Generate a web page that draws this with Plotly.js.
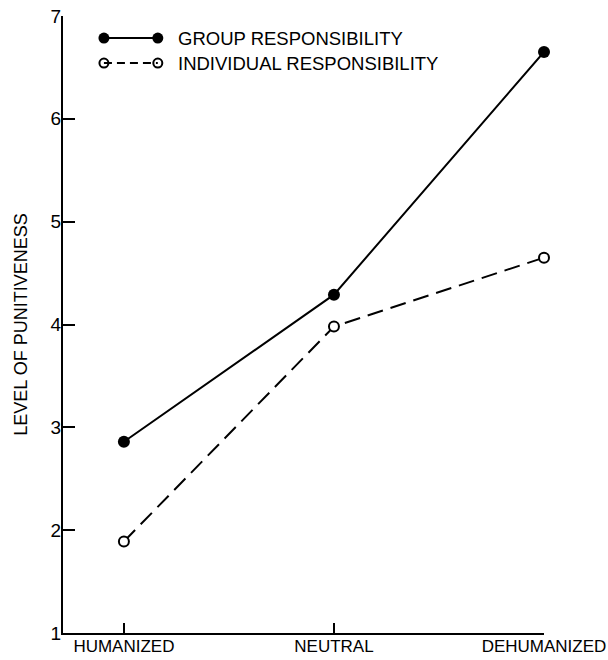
<!DOCTYPE html>
<html>
<head>
<meta charset="utf-8">
<script src="https://cdn.plot.ly/plotly-3.0.1.min.js"></script>
<style>html,body{margin:0;padding:0;background:#fff;}#chart{width:608px;height:660px;}</style>
</head>
<body>
<div id="chart"></div>
<script>
var categories = ['HUMANIZED', 'NEUTRAL', 'DEHUMANIZED'];
var groupName = 'GROUP RESPONSIBILITY';
var individualName = 'INDIVIDUAL RESPONSIBILITY';
var groupValues = [2.86, 4.29, 6.65];
var individualValues = [1.89, 3.98, 4.65];
var yTickValues = [1, 2, 3, 4, 5, 6, 7];
var yTitle = 'LEVEL OF PUNITIVENESS';

var FONT = 'Liberation Sans, Arial, Helvetica, sans-serif';
var xIdx = categories.map(function (c, i) { return i; });

var traces = [
  {
    x: xIdx, y: groupValues, name: groupName, type: 'scatter', mode: 'lines+markers',
    line: {color: '#000', width: 2},
    marker: {symbol: 'circle', size: 12, color: '#000'},
    cliponaxis: false, showlegend: false
  },
  {
    x: xIdx, y: individualValues, name: individualName, type: 'scatter', mode: 'lines+markers',
    line: {color: '#000', width: 2, dash: '16px,8px'},
    marker: {symbol: 'circle', size: 10, color: '#fff', line: {color: '#000', width: 2}},
    cliponaxis: false, showlegend: false
  }
];

// custom legend (paper coords)
var L = {x0: 0.0851, x1: 0.1971, tx: 0.2344, y1: 0.9643, y2: 0.9238};
var shapes = [
  {type: 'line', xref: 'paper', yref: 'paper', x0: L.x0, x1: L.x1, y0: L.y1, y1: L.y1, line: {color: '#000', width: 2}},
  {type: 'line', xref: 'paper', yref: 'paper', x0: L.x0, x1: L.x1, y0: L.y2, y1: L.y2, line: {color: '#000', width: 2, dash: '8px,5px'}}
];
var legendTrace1 = {
  x: [L.x0, L.x1], y: [L.y1, L.y1], xaxis: 'x2', yaxis: 'y2', mode: 'markers', type: 'scatter',
  marker: {symbol: 'circle', size: 11, color: '#000'}, showlegend: false, hoverinfo: 'skip', cliponaxis: false
};
var legendTrace2 = {
  x: [L.x0, L.x1], y: [L.y2, L.y2], xaxis: 'x2', yaxis: 'y2', mode: 'markers', type: 'scatter',
  marker: {symbol: 'circle', size: 9, color: '#fff', line: {color: '#000', width: 2}}, showlegend: false, hoverinfo: 'skip', cliponaxis: false
};
traces.push(legendTrace1, legendTrace2);

var layout = {
  width: 608, height: 660,
  margin: {l: 63, r: 64, t: 16, b: 27},
  paper_bgcolor: '#fff', plot_bgcolor: '#fff',
  font: {family: FONT, color: '#000', size: 18},
  showlegend: false,
  xaxis: {
    range: [-0.29, 2], tickmode: 'array', tickvals: xIdx, ticktext: categories,
    ticks: 'inside', ticklen: 10, tickwidth: 2, tickcolor: '#000',
    showline: true, linecolor: '#000', linewidth: 2, showgrid: false, zeroline: false,
    tickfont: {family: FONT, size: 17, color: '#000'}, automargin: false,
    ticklabeloverflow: 'allow', ticklabelstandoff: -3
  },
  yaxis: {
    range: [1, 7], tickmode: 'array', tickvals: yTickValues,
    ticks: 'inside', ticklen: 12, tickwidth: 2, tickcolor: '#000',
    showline: true, linecolor: '#000', linewidth: 2, showgrid: false, zeroline: false,
    tickfont: {family: FONT, size: 19, color: '#000'}, automargin: false,
    ticklabelstandoff: -4,
    title: {text: yTitle, font: {family: FONT, size: 18, color: '#000'}, standoff: 18}
  },
  xaxis2: {domain: [0, 1], range: [0, 1], visible: false, fixedrange: true, anchor: 'y2', overlaying: 'x'},
  yaxis2: {domain: [0, 1], range: [0, 1], visible: false, fixedrange: true, anchor: 'x2', overlaying: 'y'},
  shapes: shapes,
  annotations: [
    {xref: 'paper', yref: 'paper', x: L.tx, y: L.y1, xanchor: 'left', yanchor: 'middle', text: groupName, showarrow: false, font: {family: FONT, size: 18.5, color: '#000'}},
    {xref: 'paper', yref: 'paper', x: L.tx, y: L.y2, xanchor: 'left', yanchor: 'middle', text: individualName, showarrow: false, font: {family: FONT, size: 18.5, color: '#000'}}
  ]
};

Plotly.newPlot('chart', traces, layout, {staticPlot: true, displayModeBar: false});
</script>
</body>
</html>
